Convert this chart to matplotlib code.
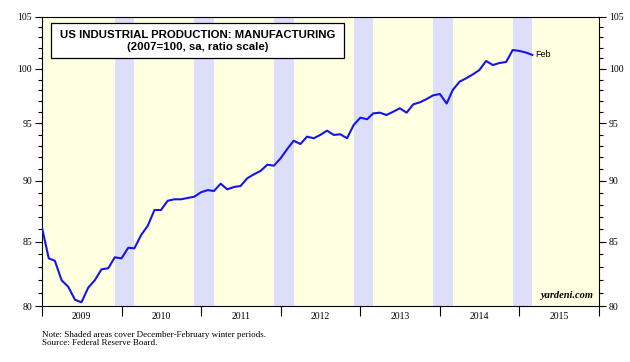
"""US industrial production: manufacturing, ratio scale with winter shading."""

import matplotlib

matplotlib.use("Agg")

import matplotlib.dates as mdates
import matplotlib.pyplot as plt
import matplotlib.ticker as mticker
import pandas as pd
from matplotlib.patches import Rectangle

# monthly index, Dec 2008 .. Feb 2015 (2007=100, sa)
first_month = "2008-12"
last_month = "2015-02"
production = [
    86.12,
    83.67, 83.48, 81.96, 81.47, 80.48, 80.28, 81.39, 81.98, 82.81, 82.89, 83.75, 83.67,
    84.51, 84.46, 85.53, 86.26, 87.56, 87.56, 88.33, 88.45, 88.45, 88.56, 88.67, 89.04,
    89.22, 89.14, 89.76, 89.28, 89.48, 89.56, 90.22, 90.56, 90.84, 91.38, 91.29, 91.93,
    92.75, 93.46, 93.17, 93.82, 93.68, 93.97, 94.35, 93.97, 94.03, 93.68, 94.85, 95.51,
    95.37, 95.90, 95.96, 95.75, 96.05, 96.36, 95.96, 96.72, 96.90, 97.20, 97.54, 97.66,
    96.79, 98.03, 98.80, 99.11, 99.48, 99.89, 100.74, 100.36, 100.55, 100.65, 101.79, 101.70,
    101.54, 101.32,
]
winter_years = [2009, 2010, 2011, 2012, 2013, 2014]
year_labels = [2009, 2010, 2011, 2012, 2013, 2014, 2015]
y_major = [80, 85, 90, 95, 100, 105]
y_minor = [v for v in range(80, 106) if v not in y_major]

TITLE = "US INDUSTRIAL PRODUCTION: MANUFACTURING"
SUBTITLE = "(2007=100, sa, ratio scale)"
NOTE = "Note: Shaded areas cover December-February winter periods.\nSource: Federal Reserve Board."

SERIF = "Liberation Serif"
SANS = "Liberation Sans"

months = pd.period_range(first_month, last_month, freq="M")
# plotted at month end
x = (months + 1).to_timestamp()

figure = plt.figure(figsize=(6.3, 3.62), dpi=100)
axis = figure.add_axes([42 / 630, 56 / 362, 557 / 630, 289 / 362])
axis.set_facecolor("#ffffe2")

for year in winter_years:
    axis.axvspan(
        pd.Timestamp(year, 12, 1),
        pd.Timestamp(year + 1, 3, 1),
        color="#dcdefa",
        linewidth=0,
        zorder=1,
    )

axis.plot(x, production, color="#1414f0", linewidth=1.5, zorder=3)
axis.text(
    x[-1] + pd.Timedelta(days=15),
    production[-1],
    "Feb",
    fontsize=6.5,
    family=SANS,
    va="center",
    ha="left",
)

axis.set_yscale("log")
axis.set_ylim(80, 105)
axis.yaxis.set_major_locator(mticker.FixedLocator(y_major))
axis.yaxis.set_major_formatter(mticker.FixedFormatter([str(v) for v in y_major]))
axis.yaxis.set_minor_locator(mticker.FixedLocator(y_minor))
axis.yaxis.set_minor_formatter(mticker.NullFormatter())

axis.set_xlim(pd.Timestamp(2009, 1, 1), pd.Timestamp(2016, 1, 1))
axis.xaxis.set_major_locator(mdates.YearLocator())
axis.xaxis.set_major_formatter(mticker.NullFormatter())
axis.xaxis.set_minor_locator(
    mticker.FixedLocator([mdates.date2num(pd.Timestamp(y, 7, 2)) for y in year_labels])
)
axis.xaxis.set_minor_formatter(mticker.FixedFormatter([str(y) for y in year_labels]))

axis.tick_params(axis="y", which="both", direction="out", left=True, right=True,
                 labelleft=True, labelright=True, width=0.8, labelsize=7, pad=2)
axis.tick_params(axis="y", which="major", length=5)
axis.tick_params(axis="y", which="minor", length=3)
axis.tick_params(axis="x", which="major", direction="out", length=7, width=0.8)
axis.tick_params(axis="x", which="minor", length=0, labelsize=7, pad=4)
for label in axis.get_xticklabels(which="both") + axis.get_yticklabels(which="both"):
    label.set_family(SERIF)

for spine in axis.spines.values():
    spine.set_linewidth(0.8)

# title box
axis.add_patch(
    Rectangle((0.016, 0.858), 0.526, 0.121, transform=axis.transAxes,
              facecolor="white", edgecolor="black", linewidth=0.9, zorder=5)
)
axis.text(0.279, 0.937, TITLE, transform=axis.transAxes, ha="center", va="center",
          fontsize=8.2, fontweight="bold", family=SANS, zorder=6)
axis.text(0.279, 0.896, SUBTITLE, transform=axis.transAxes, ha="center", va="center",
          fontsize=8.2, fontweight="bold", family=SANS, zorder=6)

axis.text(0.99, 0.02, "yardeni.com", transform=axis.transAxes, ha="right", va="bottom",
          fontsize=7.5, fontweight="bold", fontstyle="italic", family=SERIF, zorder=6)

figure.text(42 / 630, 1 - 331 / 362, NOTE, ha="left", va="top", fontsize=6.5,
            family=SERIF, linespacing=1.0)

figure.savefig("out.png", dpi=100)
plt.close(figure)
